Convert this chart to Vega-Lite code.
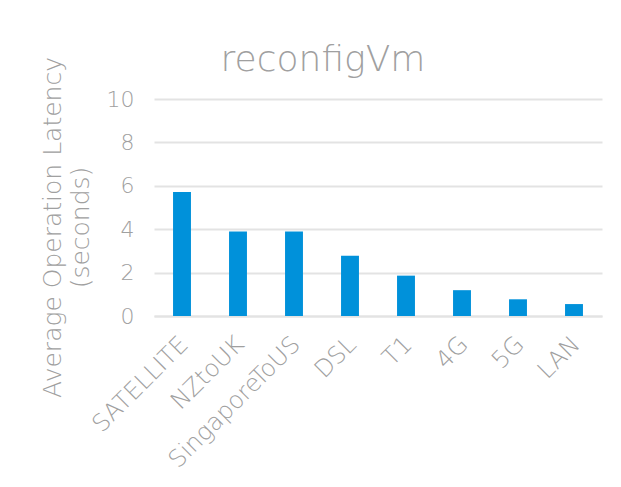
{
  "$schema": "https://vega.github.io/schema/vega-lite/v6.json",
  "autosize": "none",
  "width": 448,
  "height": 217,
  "padding": {"left": 154, "top": 99, "right": 19, "bottom": 171},
  "background": "white",
  "title": {
    "text": "reconfigVm",
    "font": "DejaVu Sans",
    "fontWeight": 200,
    "fontSize": 36,
    "color": "#a0a0a0",
    "anchor": "middle",
    "frame": "group",
    "dx": -55,
    "dy": 40,
    "offset": 18
  },
  "data": {
    "values": [
      {"network": "SATELLITE", "latency": 5.71},
      {"network": "NZtoUK", "latency": 3.89},
      {"network": "SingaporeToUS", "latency": 3.89},
      {"network": "DSL", "latency": 2.78},
      {"network": "T1", "latency": 1.86},
      {"network": "4G", "latency": 1.19},
      {"network": "5G", "latency": 0.77},
      {"network": "LAN", "latency": 0.55}
    ]
  },
  "mark": {"type": "bar", "color": "#0091da"},
  "encoding": {
    "x": {
      "field": "network",
      "type": "nominal",
      "sort": null,
      "scale": {"paddingInner": 0.68, "paddingOuter": 0.34},
      "axis": {
        "title": null,
        "labelAngle": -45,
        "labelFont": "DejaVu Sans",
        "labelFontWeight": 200,
        "labelFontSize": 24,
        "labelColor": "#a0a0a0",
        "labelPadding": 16,
        "labelOffset": -6,
        "ticks": false,
        "domainColor": "#e3e3e3",
        "domainWidth": 2
      }
    },
    "y": {
      "field": "latency",
      "type": "quantitative",
      "scale": {"domain": [0, 10]},
      "axis": {
        "title": ["Average Operation Latency", "(seconds)"],
        "titleFont": "DejaVu Sans",
        "titleFontWeight": 200,
        "titleFontSize": 25,
        "titleColor": "#a0a0a0",
        "titleLineHeight": 28,
        "titleX": -102,
        "titleY": 128,
        "titleAlign": "center",
        "titleBaseline": "middle",
        "titleAngle": -90,
        "values": [0, 2, 4, 6, 8, 10],
        "labelFont": "DejaVu Sans",
        "labelFontWeight": 200,
        "labelFontSize": 22,
        "labelColor": "#a0a0a0",
        "labelPadding": 20,
        "ticks": false,
        "domain": false,
        "gridColor": "#e3e3e3",
        "gridWidth": 2
      }
    }
  },
  "config": {"view": {"stroke": null}}
}
